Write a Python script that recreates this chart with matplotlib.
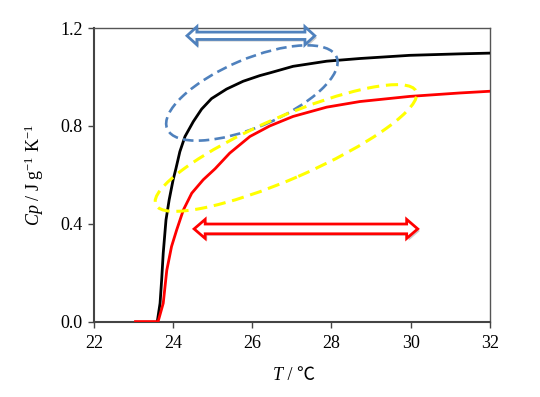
import matplotlib
matplotlib.use("Agg")
import matplotlib.pyplot as plt
import matplotlib.patheffects as pe
from matplotlib.patches import Ellipse, Polygon
from matplotlib.transforms import ScaledTranslation

plt.rcParams['font.family'] = ['Liberation Serif', 'Noto Sans CJK SC']
plt.rcParams['mathtext.fontset'] = 'custom'
plt.rcParams['mathtext.rm'] = 'Liberation Serif'
plt.rcParams['mathtext.it'] = 'Liberation Serif:italic'

# curve
black_T = [23.60, 23.67, 23.71, 23.75, 23.82, 23.90, 24.00, 24.07, 24.17, 24.30, 24.51,
           24.72, 24.97, 25.35, 25.77, 26.19, 26.44, 27.03, 27.88, 28.72, 29.98, 31.24, 32.0]
black_Cp = [0.0, 0.075, 0.17, 0.28, 0.416, 0.498, 0.58, 0.625, 0.695, 0.757, 0.818,
            0.869, 0.912, 0.951, 0.983, 1.006, 1.017, 1.044, 1.065, 1.076, 1.089, 1.095, 1.098]
red_T = [23.05, 23.62, 23.75, 23.84, 23.96, 24.09, 24.26, 24.47, 24.76, 25.06, 25.43,
         25.94, 26.44, 27.03, 27.88, 28.72, 29.98, 31.24, 32.0]
red_Cp = [0.0, 0.0, 0.075, 0.21, 0.307, 0.375, 0.457, 0.525, 0.58, 0.625, 0.689,
          0.757, 0.80, 0.839, 0.877, 0.90, 0.921, 0.935, 0.942]
xticks = [22, 24, 26, 28, 30, 32]
yticks = [0.0, 0.4, 0.8, 1.2]

fig = plt.figure(figsize=(5.4, 3.97), dpi=100)
ax = fig.add_axes([0.174, 0.19, 0.733, 0.739])

ax.plot(black_T, black_Cp, color='black', lw=2.0, zorder=3)
ax.plot(red_T, red_Cp, color='red', lw=2.0, zorder=3)

ax.set_xlim(22, 32)
ax.set_ylim(0, 1.2)
ax.set_xticks(xticks)
ax.set_yticks(yticks)
ax.set_yticklabels(['%.1f' % v for v in yticks])
ax.tick_params(direction='out', length=4, width=1, labelsize=13, pad=4,
               top=False, right=False, color='#444444')
ax.tick_params(axis='x', pad=6)
for s in ['left', 'bottom']:
    ax.spines[s].set_linewidth(1.5)
    ax.spines[s].set_color('#444444')
for s in ['top', 'right']:
    ax.spines[s].set_linewidth(1.0)
    ax.spines[s].set_color('#555555')

# x label: italic T then " / ℃" (℃ comes from the CJK font)
t1 = ax.text(0.477, -0.155, 'T', style='italic', fontsize=13,
             transform=ax.transAxes, ha='right', va='top')
ax.annotate(' / ℃', xy=(1, 0), xycoords=t1, va='bottom', ha='left', fontsize=13,
            family=['Liberation Serif', 'Noto Sans CJK SC'])
ax.set_ylabel(r'$Cp$ / J g$^{-1}$ K$^{-1}$', fontsize=13, labelpad=10)


def ring(cx, cy, w, h, ang, col, lw, dash):
    # ellipse sized in inches, centred on a data point
    tr = fig.dpi_scale_trans + ScaledTranslation(cx, cy, ax.transData)
    e = Ellipse((0, 0), w, h, angle=ang, transform=tr, fill=False,
                edgecolor=col, lw=lw, linestyle=(0, dash), zorder=4, clip_on=False)
    fig.add_artist(e)


ring(25.99, 0.935, 1.84, 0.68, 23, '#4F81BD', 1.9, (4, 2))
ring(26.85, 0.71, 2.84, 0.62, 23.5, '#FFFF00', 2.2, (4, 2.2))


def darrow(x0, x1, yc, bh, hh, hl, col):
    pts = [(x0, yc), (x0 + hl, yc + hh), (x0 + hl, yc + bh), (x1 - hl, yc + bh),
           (x1 - hl, yc + hh), (x1, yc), (x1 - hl, yc - hh), (x1 - hl, yc - bh),
           (x0 + hl, yc - bh), (x0 + hl, yc - hh)]
    p = Polygon(pts, closed=True, facecolor='white', edgecolor=col, lw=2.0,
                joinstyle='miter', zorder=5, clip_on=False)
    p.set_path_effects([pe.SimplePatchShadow(offset=(1.5, -1.5), shadow_rgbFace='#999999', alpha=0.5),
                        pe.Normal()])
    ax.add_patch(p)


darrow(24.53, 30.18, 0.379, 0.02, 0.039, 0.28, 'red')
darrow(24.35, 27.58, 1.169, 0.015, 0.037, 0.25, '#4F81BD')

fig.savefig('out.png', dpi=100)
